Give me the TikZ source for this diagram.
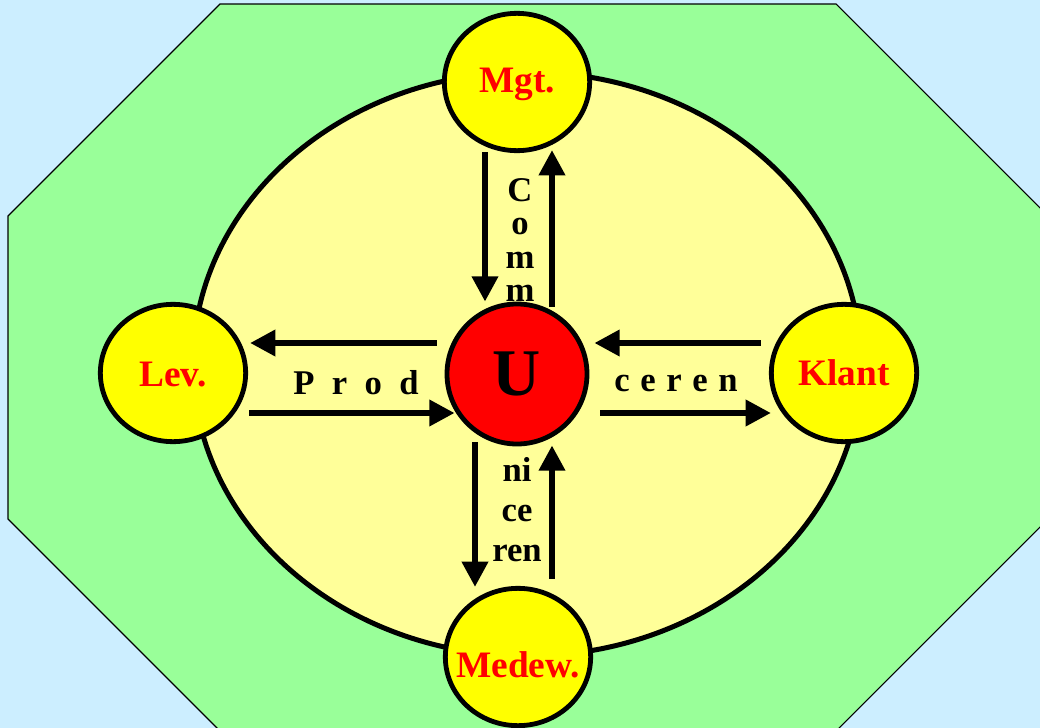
\documentclass[tikz,border=0pt]{standalone}
\usepackage{fontspec}
\setmainfont{Liberation Serif}
\usetikzlibrary{arrows.meta,shapes.geometric,calc}
\definecolor{bgblue}{HTML}{CCEEFF}
\definecolor{octgreen}{HTML}{99FF99}
\definecolor{fieldyellow}{HTML}{FFFF99}
\definecolor{ballyellow}{HTML}{FFFF00}
\definecolor{ballred}{HTML}{FF0000}
\newcommand{\ctrtext}[2]{\makebox[0pt]{\raisebox{#1}[0pt][0pt]{#2}}}
\begin{document}
\begin{tikzpicture}[x=0.75pt,y=-0.75pt,
  ring/.style={ellipse, draw, line width=3.6pt, fill=ballyellow, text=ballred,
    font=\bfseries\fontsize{28}{30}\selectfont, minimum width=109pt, minimum height=103pt, inner sep=0pt},
  flow/.style={line width=4.5pt, -{Triangle[width=19pt,length=19pt]}},
  lbl/.style={font=\bfseries\fontsize{26}{26}\selectfont, align=center, inner sep=0pt}]
\fill[bgblue] (0,0) rectangle (1040,728);
\useasboundingbox (0,0) rectangle (1040,728);
\draw[fill=octgreen, line width=0.8pt] (220,4) -- (836,4) -- (1048,216) -- (1048,519) -- (836,731) -- (220,731) -- (8,519) -- (8,216) -- cycle;
\node[ellipse, draw, line width=3.75pt, fill=fieldyellow, minimum width=501pt, minimum height=438pt, inner sep=0pt] (field) at (527,364) {};
\node[ring] (mgt) at (517,82) {\ctrtext{-8pt}{Mgt.}};
\node[ring] (lev) at (173,373) {\ctrtext{-10pt}{Lev.}};
\node[ring] (klant) at (844,373) {\ctrtext{-9pt}{Klant}};
\node[ring] (medew) at (518,657) {\ctrtext{-15pt}{Medew.}};
\node[circle, draw, line width=3.6pt, fill=ballred, minimum size=105pt, inner sep=0pt,
  font=\bfseries\fontsize{50}{50}\selectfont] (u) at (517,374) {U};
% vertical arrows top
\draw[flow] ($(mgt.south)+(-32,-1)$) -- ($(u.north)+(-32,0)$);
\draw[flow] ($(u.north)+(35,5)$) -- ($(mgt.south)+(35,-3)$);
% vertical arrows bottom
\draw[flow] ($(u.south)+(-42,-4)$) -- ($(medew.north)+(-43,1)$);
\draw[flow] ($(medew.north)+(34,-7)$) -- ($(u.south)+(35,-1)$);
% horizontal arrows left
\draw[flow] ($(u.west)+(-8,-31)$) -- ($(lev.east)+(2,-30)$);
\draw[flow] ($(lev.east)+(1,40)$) -- ($(u.west)+(10,39)$);
% horizontal arrows right
\draw[flow] ($(klant.west)+(-8,-30)$) -- ($(u.east)+(5,-31)$);
\draw[flow] ($(u.east)+(11,39)$) -- ($(klant.west)+(2,40)$);
% labels
\node[lbl, font=\bfseries\fontsize{26}{25}\selectfont] (comm) at (520,240) {C\\o\\m\\m};
\node[lbl] (prod) at (356,383) {P\hspace{13pt}r\hspace{13pt}o\hspace{13pt}d};
\node[lbl] (ceren) at (676,383) {c\hspace{8pt}e\hspace{8pt}r\hspace{8pt}e\hspace{8pt}n};
\node[lbl, font=\bfseries\fontsize{26}{30}\selectfont] (nice) at (517,510) {ni\\ce\\ren};
\end{tikzpicture}
\end{document}
